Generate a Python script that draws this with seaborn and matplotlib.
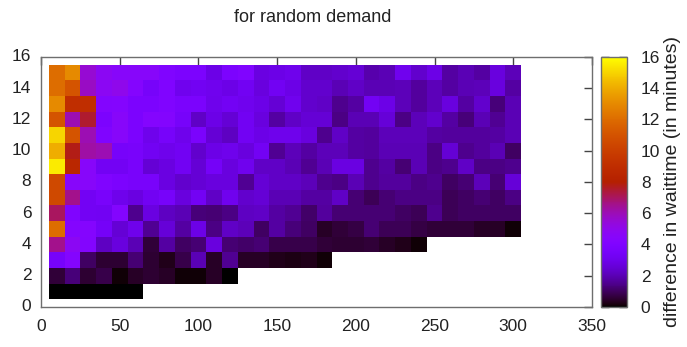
import numpy as np
import pandas as pd
import matplotlib
matplotlib.use("Agg")
import matplotlib.pyplot as plt
import seaborn as sns

# ---------------- data ----------------
x_centers = list(range(10, 301, 10))   # 30 columns
y_centers = list(range(1, 16))          # 15 rows
nan = np.nan

row15 = [12, 13, 5.5, 4.8, 4.5, 4.5, 4.5, 4.0, 3.8, 3.8, 2.9, 3.8, 4.0, 2.8, 2.9, 3.0,
         2.3, 2.3, 2.4, 2.5, 1.9, 2.0, 3.1, 2.4, 2.9, 1.8, 2.0, 1.8, 2.7, 2.1]
row14 = [12, 11, 5.8, 4.8, 5.0, 4.3, 3.5, 4.0, 3.1, 3.2, 3.1, 2.9, 3.2, 2.7, 3.2, 2.9,
         2.4, 2.4, 2.0, 2.3, 2.0, 2.0, 2.1, 1.7, 2.1, 1.8, 2.0, 2.1, 2.7, 1.8]
row13 = [13, 9, 9, 4.2, 4.3, 3.8, 3.8, 4.0, 3.7, 3.7, 3.0, 3.3, 3.1, 2.9, 2.5, 3.1,
         2.4, 2.3, 1.5, 1.8, 3.3, 2.9, 2.1, 1.7, 2.1, 2.7, 1.8, 2.4, 1.3, 2.0]
row12 = [11, 6, 7.5, 3.8, 4.5, 3.8, 4.3, 4.2, 3.5, 2.3, 2.9, 2.5, 3.2, 2.7, 1.8, 2.3,
         2.5, 2.5, 1.4, 2.0, 2.0, 2.6, 1.4, 2.1, 2.4, 1.8, 1.3, 2.0, 1.6, 2.0]
row11 = [15, 11, 6, 4.0, 4.5, 3.8, 3.0, 3.5, 3.0, 3.7, 2.5, 2.2, 3.2, 2.9, 3.0, 3.0,
         2.7, 1.5, 2.3, 1.8, 1.7, 2.1, 2.1, 2.1, 1.8, 1.7, 1.7, 1.7, 1.8, 2.0]
row10 = [14, 7.8, 6.2, 6.0, 3.5, 3.6, 3.2, 3.0, 3.2, 2.4, 2.9, 3.0, 2.7, 3.3, 1.6, 2.1,
         1.8, 2.1, 2.1, 1.8, 1.7, 2.0, 2.0, 2.0, 1.4, 2.5, 1.5, 1.7, 2.0, 1.0]
row9 = [15.5, 8.5, 4.5, 3.3, 3.3, 3.6, 2.5, 2.8, 3.2, 2.5, 3.4, 2.7, 3.1, 2.3, 2.3, 2.0,
        1.6, 2.0, 2.8, 2.8, 1.5, 1.8, 1.2, 2.0, 1.4, 1.5, 2.3, 1.4, 1.4, 1.5]
row8 = [10.5, 4.5, 4.5, 4.0, 3.8, 3.6, 3.6, 2.8, 2.4, 2.5, 2.7, 2.7, 1.6, 2.5, 2.3, 2.3,
        2.1, 1.5, 1.4, 2.0, 1.5, 1.7, 1.7, 1.4, 1.5, 1.0, 1.2, 2.1, 1.2, 2.6]
row7 = [10.5, 6.5, 3.3, 3.6, 3.0, 2.8, 3.2, 3.5, 2.7, 3.3, 2.3, 3.1, 2.4, 2.5, 2.0, 2.0,
        1.8, 1.8, 2.3, 1.2, 0.9, 1.2, 1.4, 1.4, 1.4, 0.9, 1.0, 1.2, 1.0, 1.4]
row6 = [7, 4.0, 3.3, 3.2, 4.2, 1.5, 2.8, 2.2, 2.0, 1.3, 1.2, 1.4, 2.2, 2.3, 1.8, 1.6,
        1.1, 1.7, 1.2, 1.2, 1.2, 1.2, 1.0, 0.9, 1.5, 0.9, 1.0, 1.0, 1.0, 1.0]
row5 = [12, 4.3, 4.3, 3.4, 2.5, 3.0, 1.6, 2.6, 1.8, 2.9, 1.4, 2.3, 2.1, 1.0, 1.8, 1.3,
        1.0, 0.4, 0.6, 0.7, 1.2, 0.9, 0.9, 0.7, 0.6, 0.6, 0.6, 0.4, 0.4, 0.1]
row4 = [6.5, 4.8, 4.2, 2.2, 2.7, 2.0, 0.6, 1.8, 1.0, 1.2, 2.7, 1.2, 1.1, 1.2, 0.8, 0.8,
        0.8, 0.6, 0.5, 0.5, 0.6, 0.4, 0.3, 0.1, nan, nan, nan, nan, nan, nan]
row3 = [3.5, 4.3, 1.0, 0.5, 0.5, 1.2, 0.5, 0.3, 0.8, 2.0, 0.4, 1.6, 0.4, 0.4, 0.3, 0.2,
        0.3, 0.1] + [nan] * 12
row2 = [0.6, 1.3, 0.5, 0.8, 0.1, 0.4, 0.5, 0.4, 0.1, 0.1, 0.4, 0.05] + [nan] * 18
row1 = [0.05, 0.05, 0.05, 0.05, 0.05, 0.05] + [nan] * 24

rows_bottom_up = [row1, row2, row3, row4, row5, row6, row7, row8,
                  row9, row10, row11, row12, row13, row14, row15]

x_ticks = [0, 50, 100, 150, 200, 250, 300, 350]
y_ticks = [0, 2, 4, 6, 8, 10, 12, 14, 16]
cbar_ticks = [0, 2, 4, 6, 8, 10, 12, 14, 16]
title = "for random demand"
cbar_label = "difference in waittime (in minutes)"

# ---------------- plot ----------------
sns.set_style("white")
plt.rcParams["font.family"] = ["Liberation Sans", "DejaVu Sans"]

df = pd.DataFrame(rows_bottom_up, index=y_centers, columns=x_centers)

fig = plt.figure(figsize=(6.87, 3.47), dpi=100)
ax = fig.add_axes([0.0597, 0.1153, 0.802, 0.7205])
cax = fig.add_axes([0.8748, 0.1153, 0.0378, 0.7205])

sns.heatmap(df, ax=ax, cbar_ax=cax, cmap="gnuplot", vmin=0, vmax=16,
            cbar_kws={"ticks": cbar_ticks})

# map data values onto heatmap cell coordinates
dx = x_centers[1] - x_centers[0]
x0 = x_centers[0] - dx / 2
dy = y_centers[1] - y_centers[0]
y0 = y_centers[0] - dy / 2

def xpos(v):
    return (v - x0) / dx

def ypos(v):
    return (v - y0) / dy

ax.set_xlim(xpos(x_ticks[0]), xpos(x_ticks[-1]))
ax.set_ylim(ypos(y_ticks[0]), ypos(y_ticks[-1]))
ax.set_xticks([xpos(v) for v in x_ticks])
ax.set_xticklabels([str(v) for v in x_ticks], rotation=0)
ax.set_yticks([ypos(v) for v in y_ticks])
ax.set_yticklabels([str(v) for v in y_ticks], rotation=0)
ax.set_xlabel("")
ax.set_ylabel("")

edge = "#6e6e6e"
for s in ax.spines.values():
    s.set_visible(True)
    s.set_color(edge)
    s.set_linewidth(1.0)
ax.tick_params(direction="in", top=True, right=True, length=6, width=1.0,
               color="#444444", labelsize=12.5, labelcolor="#222222")
ax.tick_params(axis="x", pad=9)
ax.tick_params(axis="y", pad=7)

cbar = ax.collections[0].colorbar
cbar.outline.set_edgecolor(edge)
cbar.outline.set_linewidth(1.0)
cax.tick_params(direction="in", left=True, right=True, length=6, width=1.0,
                color="#222222", labelsize=12.5, labelcolor="#222222", pad=10)
cbar.set_label(cbar_label, fontsize=14, color="#222222", labelpad=3)

fig.text(0.4556, 0.951, title, ha="center", va="center", fontsize=13, color="#222222")

fig.savefig("out.png", dpi=100)
